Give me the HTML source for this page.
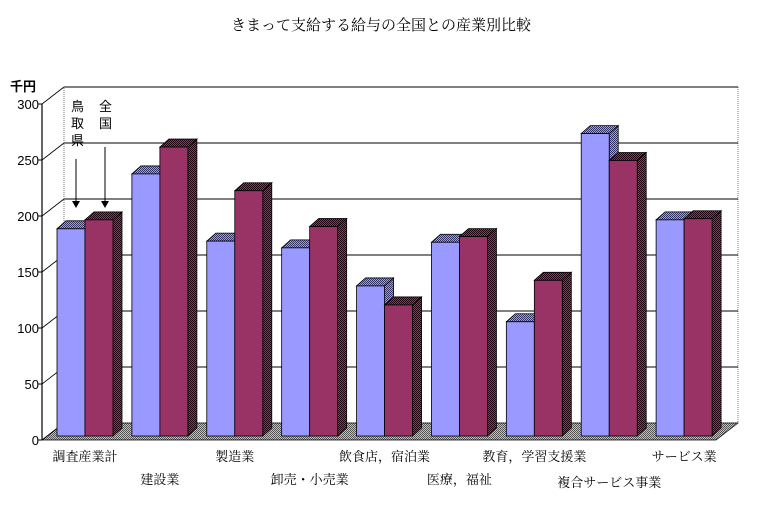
<!DOCTYPE html>
<html><head><meta charset="utf-8">
<style>
body{margin:0;background:#fff;}
svg{display:block;font-family:"Liberation Sans","Noto Sans CJK JP",sans-serif;}
</style></head>
<body>
<svg id="chart" width="762" height="522" viewBox="0 0 762 522">
<defs>
<pattern id="hatchB" width="2" height="2" patternUnits="userSpaceOnUse"><rect width="2" height="2" fill="#9999ff"/><rect width="1" height="1" fill="#333366"/><rect x="1" y="1" width="1" height="1" fill="#333366"/></pattern>
<pattern id="hatchR" width="2" height="2" patternUnits="userSpaceOnUse"><rect width="2" height="2" fill="#993366"/><rect width="1" height="1" fill="#200010"/><rect x="1" y="1" width="1" height="1" fill="#200010"/></pattern>
<pattern id="hatchF" width="2" height="2" patternUnits="userSpaceOnUse"><rect width="2" height="2" fill="#c0c0c0"/><rect width="1" height="1" fill="#555"/><rect x="1" y="1" width="1" height="1" fill="#555"/></pattern>
</defs>
<text x="381" y="30" text-anchor="middle" font-size="15" font-family="'Liberation Serif','Noto Serif CJK SC',serif">きまって支給する給与の全国との産業別比較</text>
<text x="10" y="91" font-size="13" font-weight="bold">千円</text>
<g id="back"></g>
<g id="bars"></g>
<g id="labels"></g>
<g font-size="13" fill="#000">
<text x="71" y="111">鳥</text>
<text x="71" y="128">取</text>
<text x="71" y="145">県</text>
<text x="99" y="111">全</text>
<text x="99" y="128">国</text>
<line x1="76" y1="159" x2="76" y2="204" stroke="#000"/><polygon points="72,201 80,201 76,208" fill="#000"/>
<line x1="105" y1="147" x2="105" y2="204" stroke="#000"/><polygon points="101,201 109,201 105,208" fill="#000"/>
</g>
</svg>
<script>
const categories=["調査産業計","建設業","製造業","卸売・小売業","飲食店，宿泊業","医療，福祉","教育，学習支援業","複合サービス事業","サービス業"];
const tottori=[185,234,174,168,134,173,102,270,193];
const national=[193,258,219,187,117,178,139,246,194];
const ticks=[0,50,100,150,200,250,300];
const NS="http://www.w3.org/2000/svg";
const svg=document.getElementById('chart');
const back=document.getElementById('back'),barsG=document.getElementById('bars'),labG=document.getElementById('labels');
const X0=42,Y0=440,DX=22,DY=-17,K=1.12,RIGHT=716;
function yv(v){return Y0-v*K;}
function mk(tag,attrs,parent){const e=document.createElementNS(NS,tag);for(const k in attrs)e.setAttribute(k,attrs[k]);parent.appendChild(e);return e;}
// back walls
let w=mk('rect',{x:X0+DX,y:yv(300)+DY,width:RIGHT-X0,height:300*K,fill:'#fff',stroke:'#777','stroke-dasharray':'1,1'},back);


// floor
let fl=mk('polygon',{points:`${X0},${Y0} ${RIGHT},${Y0} ${RIGHT+DX},${Y0+DY} ${X0+DX},${Y0+DY}`,fill:'url(#hatchF)',stroke:'#000','stroke-width':0.7},back);


ticks.forEach(t=>{
  const y=yv(t);
  if(t>0){let g=mk('line',{x1:X0+DX,y1:y+DY,x2:RIGHT+DX,y2:y+DY,stroke:'#000','stroke-width':1},back);
  
  }
  mk('line',{x1:X0,y1:y,x2:X0+DX,y2:y+DY,stroke:'#000','stroke-width':0.8},back);
  mk('line',{x1:X0-4,y1:y,x2:X0,y2:y,stroke:'#000'},back);
  let tx=mk('text',{x:X0-3,y:y+5,'text-anchor':'end','font-size':13},back);
  tx.textContent=t;
  
  
});
mk('line',{x1:X0+DX,y1:yv(0)+DY,x2:X0+DX,y2:yv(300)+DY,stroke:'#777','stroke-dasharray':'1,1'},back);
mk('line',{x1:X0,y1:Y0,x2:X0,y2:yv(300),stroke:'#000','stroke-width':1.2},back);
const step=(RIGHT-X0)/categories.length, BW=28, dx=9, dy=-8, base=436;
function bar(x,v,front,top,side,name){
  const yt=base-v*K;
  const g=mk('g',{},barsG);
  
  
  mk('polygon',{points:`${x+BW},${base} ${x+BW+dx},${base+dy} ${x+BW+dx},${yt+dy} ${x+BW},${yt}`,fill:side,stroke:'#000','stroke-width':0.8},g);
  mk('polygon',{points:`${x},${yt} ${x+dx},${yt+dy} ${x+BW+dx},${yt+dy} ${x+BW},${yt}`,fill:top,stroke:'#000','stroke-width':0.8},g);
  mk('rect',{x:x,y:yt,width:BW,height:v*K,fill:front,stroke:'#000','stroke-width':0.8},g);
}
categories.forEach((c,i)=>{
  const x=X0+15+i*step;
  bar(x,tottori[i],'#9999ff','url(#hatchB)','url(#hatchB)','bar-tottori-'+i);
  bar(x+BW,national[i],'#993366','url(#hatchR)','url(#hatchR)','bar-national-'+i);
  const cx=x+BW+(i===0?-15:0);
  const yl=(i%2===0)?461:484;
  let t=mk('text',{x:x+BW,y:yl+(i===7?3:0),'text-anchor':'middle','font-size':13,'font-family':"'Liberation Serif','Noto Serif CJK SC',serif"},labG);
  t.textContent=c;
  
  
});
</script>
</body></html>
